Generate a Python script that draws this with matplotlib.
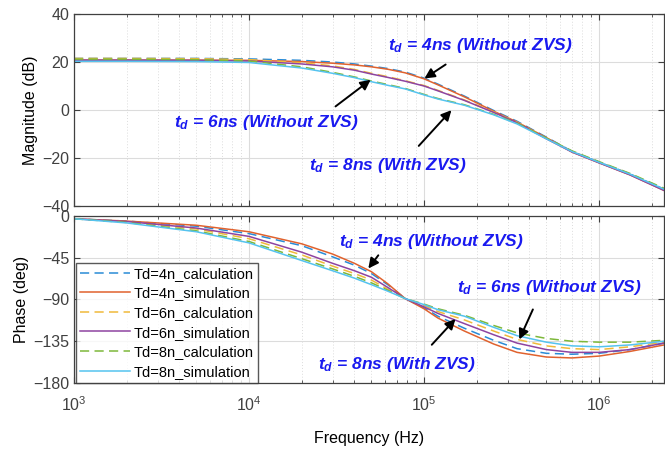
import matplotlib
matplotlib.use("Agg")
import matplotlib.pyplot as plt
from matplotlib.ticker import LogLocator, NullFormatter, FixedLocator

plt.rcParams['font.family'] = ['Liberation Sans', 'DejaVu Sans']
plt.rcParams['mathtext.fontset'] = 'custom'
plt.rcParams['mathtext.it'] = 'Liberation Sans:italic:bold'
plt.rcParams['mathtext.rm'] = 'Liberation Sans:bold'

# Frequency points (Hz)
freq = [1e3, 2e3, 5e3, 1e4, 2e4, 3e4, 4e4, 5e4, 6.2e4, 7.8e4, 1e5, 1.2e5,
        1.7e5, 2.5e5, 3.4e5, 5e5, 7e5, 1e6, 1.5e6, 2.35e6]

# Magnitude (dB)
mag_4n_calc = [21.5, 21.5, 21.5, 21.3, 20.7, 20.0, 19.2, 18.3, 17.3, 15.8, 13.3, 10.8,
               5.8, -0.2, -4.7, -11.3, -17.2, -21.7, -26.6, -33.0]
mag_4n_sim = [20.8, 20.8, 20.8, 20.7, 20.2, 19.5, 18.8, 18.0, 17.0, 15.5, 13.0, 10.5,
              5.5, -0.5, -5.0, -11.5, -17.5, -22.0, -27.0, -33.5]
mag_6n_calc = [21.5, 21.5, 21.4, 21.0, 19.7, 18.4, 16.9, 15.3, 13.9, 12.2, 10.2, 8.2,
               4.2, -0.8, -5.1, -11.8, -17.2, -21.7, -26.6, -33.0]
mag_6n_sim = [20.8, 20.8, 20.7, 20.4, 19.2, 18.0, 16.6, 15.0, 13.6, 12.0, 10.0, 8.0,
              4.0, -1.0, -5.3, -12.0, -17.5, -22.0, -27.0, -33.5]
mag_8n_calc = [21.2, 21.2, 21.0, 20.4, 18.0, 15.7, 13.8, 12.1, 10.6, 9.0, 6.5, 4.8,
               2.2, -1.8, -5.5, -11.7, -17.0, -21.5, -26.4, -32.6]
mag_8n_sim = [20.3, 20.3, 20.2, 19.8, 17.5, 15.3, 13.5, 11.8, 10.3, 8.8, 6.3, 4.6,
              2.0, -2.0, -5.8, -12.0, -17.3, -21.8, -26.7, -33.0]

# Phase (deg)
ph_4n_calc = [-3, -5.5, -11, -19, -32, -44, -53, -62, -74, -89, -99, -108,
              -121, -134, -143, -148, -149, -148, -144, -137]
ph_4n_sim = [-3, -5.5, -10, -17, -30, -41, -51, -60, -73, -89, -100, -110,
             -124, -138, -147, -152, -153, -151, -146, -139]
ph_6n_calc = [-3, -6.5, -14, -24.5, -42, -54, -62, -69, -79, -89, -96.5, -103,
              -112, -124, -133, -140, -143, -144, -141, -136]
ph_6n_sim = [-3, -6, -13, -22, -39, -51, -59, -66, -77, -89, -98, -105,
             -116, -128, -137, -144, -147, -147, -144, -137]
ph_8n_calc = [-3, -7, -16, -27.5, -46, -57, -65, -72, -80, -89, -95, -100,
              -107, -118, -126, -132, -135, -136, -136, -134]
ph_8n_sim = [-3, -7.5, -17, -29, -48, -59, -67, -74, -81, -89, -95.5, -101,
             -108, -120, -129, -136, -140, -141, -139, -135]

labels = ["Td=4n_calculation", "Td=4n_simulation", "Td=6n_calculation",
          "Td=6n_simulation", "Td=8n_calculation", "Td=8n_simulation"]
colors = ["#2a8bd6", "#e0622e", "#f0b93a", "#8e44a0", "#7db83a", "#55c3ef"]
styles = [(0, (6, 3.5)), "-", (0, (6, 3.5)), "-", (0, (6, 3.5)), "-"]

mags = [mag_4n_calc, mag_4n_sim, mag_6n_calc, mag_6n_sim, mag_8n_calc, mag_8n_sim]
phases = [ph_4n_calc, ph_4n_sim, ph_6n_calc, ph_6n_sim, ph_8n_calc, ph_8n_sim]

fig = plt.figure(figsize=(6.65, 4.51), dpi=100)
ax1 = fig.add_axes([0.1113, 0.5432, 0.8872, 0.4257])
ax2 = fig.add_axes([0.1113, 0.1508, 0.8872, 0.3703])

for ax in (ax1, ax2):
    ax.set_xscale("log")
    ax.set_xlim(1e3, 2.35e6)
    ax.xaxis.set_major_locator(LogLocator(base=10, numticks=10))
    ax.xaxis.set_minor_locator(LogLocator(base=10, subs=range(2, 10), numticks=100))
    ax.xaxis.set_minor_formatter(NullFormatter())
    ax.grid(True, which="major", color="#dcdcdc", linewidth=0.8)
    ax.grid(True, which="minor", axis="x", color="#dcdcdc", linewidth=0.7, linestyle=(0, (1, 2)))
    ax.tick_params(which="both", direction="in", top=True, right=True,
                   colors="#404040", labelsize=11.5)
    ax.tick_params(which="major", length=4)
    ax.tick_params(which="minor", length=2.5)
    for s in ax.spines.values():
        s.set_color("#404040")
        s.set_linewidth(0.9)
    ax.set_axisbelow(True)

for y, c, ls, lab in zip(mags, colors, styles, labels):
    ax1.plot(freq, y, color=c, linestyle=ls, linewidth=1.1, label=lab)
for y, c, ls, lab in zip(phases, colors, styles, labels):
    ax2.plot(freq, y, color=c, linestyle=ls, linewidth=1.1, label=lab)

ax1.set_ylim(-40, 40)
ax1.yaxis.set_major_locator(FixedLocator([-40, -20, 0, 20, 40]))
ax1.tick_params(labelbottom=False)
ax1.set_ylabel("Magnitude (dB)", fontsize=11.5, labelpad=3)

ax2.set_ylim(-180, 0)
ax2.yaxis.set_major_locator(FixedLocator([-180, -135, -90, -45, 0]))
ax2.tick_params(axis="x", which="major", pad=9)
ax2.set_ylabel("Phase (deg)", fontsize=11.5, labelpad=3)
ax2.set_xlabel("Frequency (Hz)", fontsize=11.5, labelpad=12)

leg = ax2.legend(loc="lower left", bbox_to_anchor=(0.003, 0.0), fontsize=10.5,
                 frameon=True, fancybox=False, edgecolor="#303030",
                 handlelength=3.4, handletextpad=0.3, labelspacing=0.38,
                 borderpad=0.3, borderaxespad=0.0)
leg.get_frame().set_linewidth(1.0)

blue = "#1a1af0"
tkw = dict(color=blue, fontsize=12.5, fontweight="bold", fontstyle="italic",
           ha="center", va="center")
akw = dict(arrowstyle="-|>,head_length=0.6,head_width=0.3", color="black", lw=1.4)

ax1.annotate("", xy=(9.75e4, 12.5), xytext=(1.37e5, 19.6), arrowprops=akw)
ax1.text(2.09e5, 27, r"$t_d$ = 4ns (Without ZVS)", **tkw)
ax1.annotate("", xy=(5.1e4, 13.3), xytext=(3.03e4, 0.8), arrowprops=akw)
ax1.text(1.25e4, -5, r"$t_d$ = 6ns (Without ZVS)", **tkw)
ax1.annotate("", xy=(1.47e5, 0.8), xytext=(9.1e4, -15.8), arrowprops=akw)
ax1.text(6.2e4, -23.3, r"$t_d$ = 8ns (With ZVS)", **tkw)

ax2.annotate("", xy=(4.7e4, -59), xytext=(5.6e4, -40), arrowprops=akw)
ax2.text(1.1e5, -27, r"$t_d$ = 4ns (Without ZVS)", **tkw)
ax2.annotate("", xy=(3.45e5, -135.8), xytext=(4.25e5, -98), arrowprops=akw)
ax2.text(5.2e5, -77.6, r"$t_d$ = 6ns (Without ZVS)", **tkw)
ax2.annotate("", xy=(1.55e5, -108.8), xytext=(1.08e5, -141), arrowprops=akw)
ax2.text(7.0e4, -160.6, r"$t_d$ = 8ns (With ZVS)", **tkw)

fig.savefig("out.png", dpi=100)
